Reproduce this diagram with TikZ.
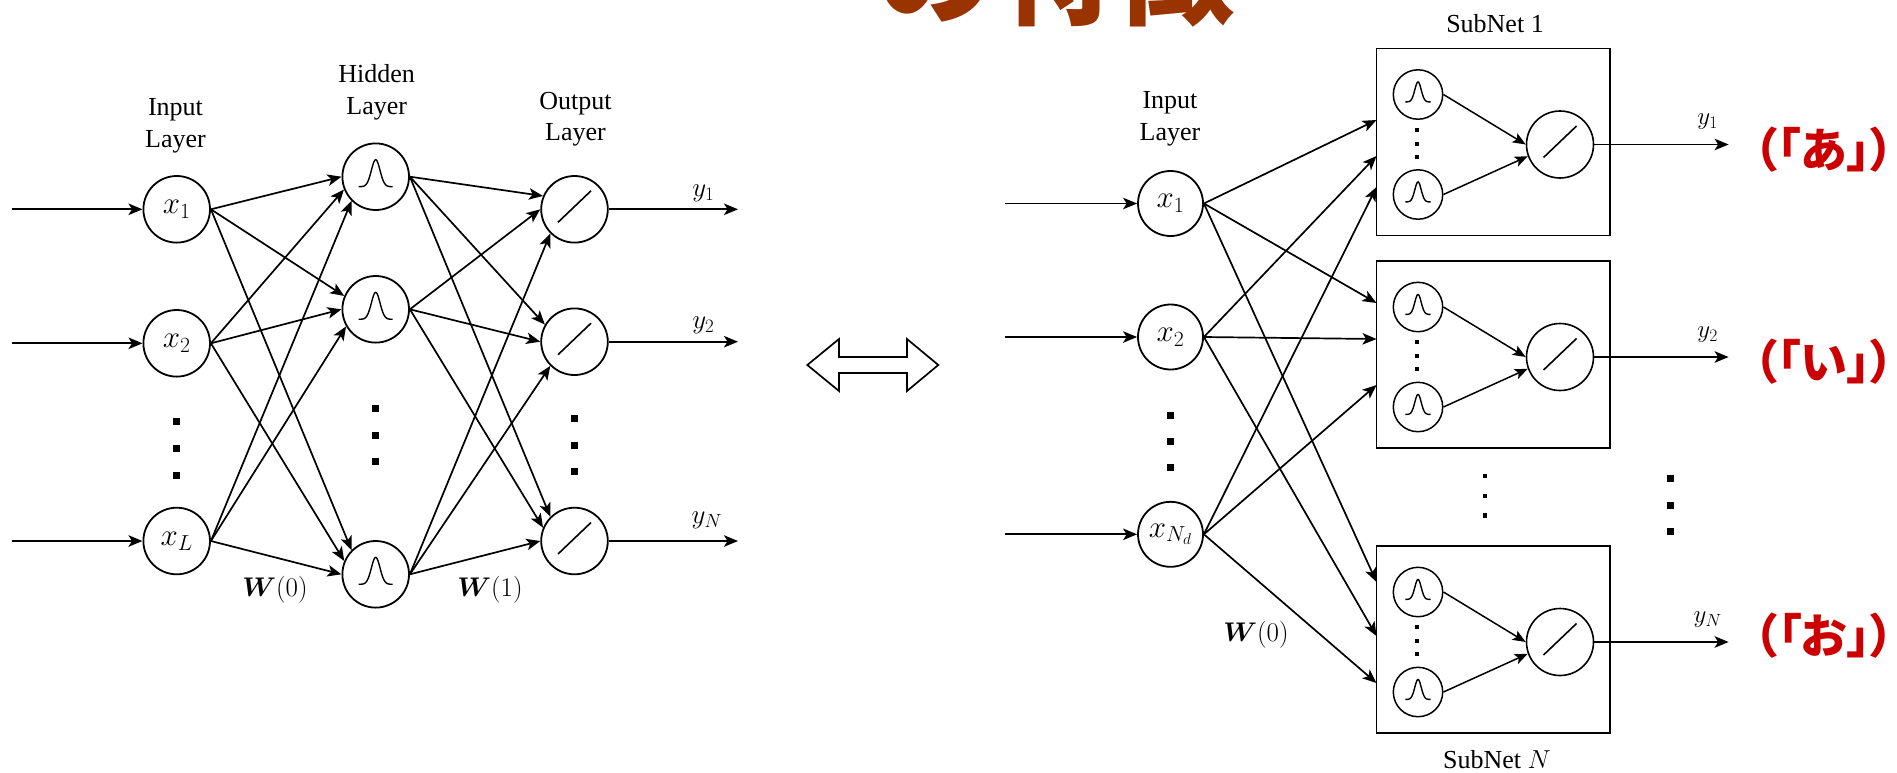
\RequirePackage{fix-cm}
\documentclass[tikz,border=0pt]{standalone}
\usepackage{bm}
\usepackage[no-math]{fontspec}
\setmainfont{Liberation Serif}
\newfontfamily\jp{Noto Sans CJK JP}
\newfontfamily\jpp{Noto Sans CJK JP}[RawFeature=+palt]
\usetikzlibrary{arrows.meta}
\definecolor{titlebrown}{HTML}{993300}
\definecolor{markred}{HTML}{CC0000}

\tikzset{
  neuron/.style={circle,draw,line width=1.8pt,minimum size=66.6pt,inner sep=0pt,
    font=\fontsize{31}{33}\selectfont},
  rneuron/.style={neuron,minimum size=65pt},
  sneuron/.style={circle,draw,line width=1.5pt,minimum size=49.4pt,inner sep=0pt},
  oneuron/.style={circle,draw,line width=1.6pt,minimum size=67pt,inner sep=0pt},
  conn/.style={line width=1.7pt,-{Stealth[length=14pt,width=11.5pt,inset=3.5pt]}},
  sconn/.style={line width=1.5pt,-{Stealth[length=13pt,width=10.5pt,inset=3pt]}},
  layerlab/.style={align=center,inner sep=0pt,font=\fontsize{26}{31.5}\selectfont},
  ylab/.style={inner sep=0pt,font=\fontsize{27}{29}\selectfont},
  rylab/.style={inner sep=0pt,font=\fontsize{25}{27}\selectfont},
  wlab/.style={inner sep=0pt,font=\fontsize{27}{29}\selectfont},
  subnetlab/.style={inner sep=0pt,font=\fontsize{26}{28}\selectfont},
  subbox/.style={draw,rectangle,line width=1.7pt,minimum width=233.5pt,minimum height=187pt,inner sep=0pt},
  jplab/.style={inner sep=0pt,text=markred,font=\fontsize{47}{50}\selectfont\jpp\bfseries},
  bump/.pic={\draw[line width=1.4pt] plot[domain=-1:1,samples=51,smooth]
      ({17*\x},{10-27*exp(-((\x/0.36)^2))});},
  ramp/.pic={\draw[line width=1.6pt] (-16.5,13) -- (16.5,-18.5);}
}

\begin{document}
\begin{tikzpicture}[x=1pt,y=-1pt]
\useasboundingbox (0,0) rectangle (1897,772);

% heading, only its lower edge lies on the page
\node[anchor=base west,inner sep=0pt,text=titlebrown,
  font=\fontsize{120}{120}\selectfont\jp\bfseries] (title) at (875,15.6) {の特徴};

% ---------------- full network ----------------
\node[layerlab] (inlab)  at (175.5,126) {Input\\Layer};
\node[layerlab] (hidlab) at (376.7,92.5) {Hidden\\Layer};
\node[layerlab] (outlab) at (575.5,119) {Output\\Layer};

\node[neuron] (i1) at (176.7,209.3) {$x_1$};
\node[neuron] (i2) at (176.7,343.3) {$x_2$};
\node[neuron] (iL) at (176.7,541)   {$x_L$};

\node[neuron] (h1) at (375.7,176.7) {};
\node[neuron] (h2) at (375.7,309.3) {};
\node[neuron] (h3) at (375.7,574.3) {};
\foreach \n in {h1,h2,h3} \pic at (\n) {bump};

\node[neuron] (o1) at (574.5,209.3) {};
\node[neuron] (o2) at (574.5,341.7) {};
\node[neuron] (oN) at (574.5,541)   {};
\foreach \n in {o1,o2,oN} \pic at (\n) {ramp};

% vertical ellipses
\foreach \x/\ya/\yb/\yc in {176.7/421.7/448.3/475, 375.5/408.3/435/461.7, 574.5/418.3/445/471.7}
  \foreach \y in {\ya,\yb,\yc}
    \fill (\x-3.5,\y-3.5) rectangle ++(7,7);

% external inputs
\coordinate (s1) at (11.7,209.3);
\coordinate (s2) at (11.7,343.3);
\coordinate (sL) at (11.7,541);
\draw[conn] (s1) -- (i1.west);
\draw[conn] (s2) -- (i2.west);
\draw[conn] (sL) -- (iL.west);

% input -> hidden
\draw[conn] (i1.east) -- (h1.180);
\draw[conn] (i2.east) -- (h1.202.5);
\draw[conn] (iL.east) -- (h1.225);
\draw[conn] (i1.east) -- (h2.157.5);
\draw[conn] (i2.east) -- (h2.180);
\draw[conn] (iL.east) -- (h2.210);
\draw[conn] (i1.east) -- (h3.135);
\draw[conn] (i2.east) -- (h3.157.5);
\draw[conn] (iL.east) -- (h3.180);

% hidden -> output
\draw[conn] (h1.east) -- (o1.157.5);
\draw[conn] (h2.east) -- (o1.180);
\draw[conn] (h3.east) -- (o1.225);
\draw[conn] (h1.east) -- (o2.150);
\draw[conn] (h2.east) -- (o2.180);
\draw[conn] (h3.east) -- (o2.225);
\draw[conn] (h1.east) -- (oN.135);
\draw[conn] (h2.east) -- (oN.157.5);
\draw[conn] (h3.east) -- (oN.180);

% outputs
\coordinate (e1) at (738,209.3);
\coordinate (e2) at (738,341.7);
\coordinate (eN) at (738,541);
\draw[conn] (o1.east) -- (e1);
\draw[conn] (o2.east) -- (e2);
\draw[conn] (oN.east) -- (eN);
\node[ylab] (y1l) at (703.3,193.3) {$y_1$};
\node[ylab] (y2l) at (703.3,325)   {$y_2$};
\node[ylab] (yNl) at (706.7,520)   {$y_N$};

\node[wlab] (w0) at (275,590) {$\bm{W}(0)$};
\node[wlab] (w1) at (490,590) {$\bm{W}(1)$};

% equivalence arrow
\draw[line width=1.7pt,line join=miter] (807.3,365) -- (839,339) -- (839,357) -- (907,357) -- (907,339)
  -- (938.3,365) -- (907,391) -- (907,373) -- (839,373) -- (839,391) -- cycle;

% ---------------- split network ----------------
\node[layerlab] (rinlab) at (1170,119) {Input\\Layer};

\node[rneuron] (r1) at (1170.5,203.5) {$x_1$};
\node[rneuron] (r2) at (1170.5,337)   {$x_2$};
\node[rneuron] (rN) at (1170.5,534.3) {$x_{N_d}$};
\foreach \y in {415,441,467.7}
  \fill (1170.5-3.5,\y-3.5) rectangle ++(7,7);

\coordinate (t1) at (1005,203.5);
\coordinate (t2) at (1005,337);
\coordinate (tN) at (1005,534.3);
\draw[conn] (t1) -- (r1.west);
\draw[conn] (t2) -- (r2.west);
\draw[conn] (tN) -- (rN.west);

\node[wlab] (rw0) at (1256,635) {$\bm{W}(0)$};

% sub-networks
\foreach \k/\t/\lab in {1/48.5/y_1, 2/261/y_2, N/546/y_N} {
  \node[subbox] (b\k) at (1493.25,\t+93.5) {};
  \node[sneuron] (b\k-h1) at (1418,\t+46) {};
  \node[sneuron] (b\k-h2) at (1418,\t+146) {};
  \node[oneuron] (b\k-o) at (1560,\t+96) {};
  \pic[scale=0.74] at (b\k-h1) {bump};
  \pic[scale=0.74] at (b\k-h2) {bump};
  \pic at (b\k-o) {ramp};
  \foreach \y in {81,95,108}
    \fill (1417-2,\t+\y-2) rectangle ++(4,4);
  \draw[sconn] (b\k-h1.east) -- (b\k-o.west);
  \draw[sconn] (b\k-h2.east) -- (b\k-o.200);
  \coordinate (b\k-e) at (1728.6,\t+96);
  \draw[conn] (b\k-o.east) -- (b\k-e);
  \node[rylab] (b\k-yl) at (1707.6,\t+73.5) {$\lab$};
}

\node[subnetlab] (sn1) at (1495,23.3) {SubNet 1};
\node[subnetlab] (snN) at (1497,760) {SubNet $N$};

% entry points on the left side of each sub-network
\foreach \k/\ya/\yb/\yc in {1/120/156/187, 2/303/339/385, N/582/636/683} {
  \coordinate (b\k-in1) at (1376.5,\ya);
  \coordinate (b\k-in2) at (1376.5,\yb);
  \coordinate (b\k-inN) at (1376.5,\yc);
  \draw[conn] (r1.east) -- (b\k-in1);
  \draw[conn] (r2.east) -- (b\k-in2);
  \draw[conn] (rN.east) -- (b\k-inN);
}

% ellipses between sub-networks and outputs
\foreach \y in {476,496,515.7}
  \fill (1484.8-2.3,\y-2.3) rectangle ++(4.6,4.6);
\foreach \y in {478.3,505,531}
  \fill (1670-3.5,\y-3.5) rectangle ++(7,7);

% output annotations
\node[jplab] (ja) at (1824,150) {（「あ」）};
\node[jplab] (ji) at (1824,362) {（「い」）};
\node[jplab] (jo) at (1824,636) {（「お」）};
\end{tikzpicture}
\end{document}
